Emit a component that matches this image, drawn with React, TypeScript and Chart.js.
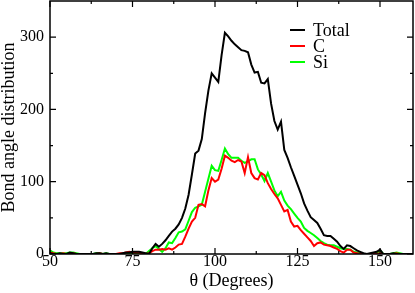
import React, { useEffect, useRef } from 'react';
import { Chart, registerables } from 'chart.js';

Chart.register(...registerables);

const ANGLES = [
  50, 51, 52, 53, 54, 55, 56, 57, 58, 59,
  60, 61, 62, 63, 64, 65, 66, 67, 68, 69,
  70, 71, 72, 73, 74, 75, 76, 77, 78, 79,
  80, 81, 82, 83, 84, 85, 86, 87, 88, 89,
  90, 91, 92, 93, 94, 95, 96, 97, 98, 99,
  100, 101, 102, 103, 104, 105, 106, 107, 108, 109,
  110, 111, 112, 113, 114, 115, 116, 117, 118, 119,
  120, 121, 122, 123, 124, 125, 126, 127, 128, 129,
  130, 131, 132, 133, 134, 135, 136, 137, 138, 139,
  140, 141, 142, 143, 144, 145, 146, 147, 148, 149,
  150, 151, 152, 153, 154, 155, 156, 157, 158, 159,
  160,
];

const TOTAL = [
  1, 0, 0, 1, 0, 0, 2, 1, 0, 0,
  0, 0, 0, 0, 1, 1, 0, 1, 0, 0,
  0, 0, 1, 2, 2, 3, 3, 3, 2, 1,
  0, 8, 14, 10, 14, 19, 25, 31, 35, 41,
  50, 63, 82, 110, 139, 143, 159, 195, 226, 250,
  244, 238, 275, 306, 301, 295, 290, 286, 282, 281,
  279, 262, 251, 252, 237, 236, 242, 208, 184, 172,
  183, 144, 133, 120, 108, 96, 84, 70, 60, 51,
  47, 43, 35, 26, 25, 25, 21, 17, 11, 7,
  12, 11, 8, 5, 3, 1, 0, 1, 2, 3,
  6, 0, 0, 0, 1, 0, 0, 0, 0, 0,
  0,
];

const CARBON = [
  2, 1, 0, 0, 1, 0, 0, 1, 0, 0,
  0, 0, 0, 0, 0, 1, 0, 0, 0, 0,
  0, 1, 1, 2, 3, 2, 2, 2, 1, 0,
  1, 4, 6, 6, 7, 6, 8, 6, 9, 13,
  14, 24, 35, 45, 50, 68, 69, 66, 88, 105,
  100, 103, 118, 136, 133, 129, 127, 130, 128, 112,
  134, 112, 105, 103, 112, 109, 98, 90, 83, 77,
  68, 59, 61, 45, 38, 39, 33, 28, 23, 18,
  11, 15, 16, 13, 12, 11, 9, 7, 4, 2,
  6, 6, 2, 1, 0, 0, 0, 0, 0, 0,
  1, 0, 0, 0, 0, 1, 0, 0, 0, 0,
  0,
];

const SILICON = [
  5, 2, 1, 1, 1, 1, 2, 2, 1, 0,
  0, 0, 0, 0, 1, 1, 0, 1, 0, 0,
  0, 0, 0, 0, 0, 1, 1, 0, 0, 0,
  4, 8, 11, 7, 3, 8, 16, 15, 22, 30,
  31, 34, 46, 58, 64, 66, 68, 86, 104, 122,
  116, 115, 130, 146, 138, 133, 133, 133, 129, 126,
  128, 131, 131, 117, 110, 101, 112, 100, 88, 80,
  86, 74, 67, 62, 56, 50, 45, 36, 32, 29,
  26, 22, 18, 15, 13, 12, 12, 10, 8, 7,
  7, 6, 3, 2, 1, 0, 0, 0, 0, 1,
  5, 0, 0, 0, 1, 2, 1, 0, 0, 0,
  0,
];

const SERIES_LABELS = ['Total', 'C', 'Si'];
const SERIES_COLORS = ['#000000', '#ff0000', '#00ff00'];
const SERIES_VALUES = [TOTAL, CARBON, SILICON];

const X_TICKS = [50, 75, 100, 125, 150];
const X_MINOR_TICKS = [62.5, 87.5, 112.5, 137.5];
const Y_TICKS = [0, 100, 200, 300];
const Y_MINOR_TICKS = [50, 150, 250];

const X_TITLE = 'θ (Degrees)';
const Y_TITLE = 'Bond angle distribution';

const FONT = '"Liberation Serif", "Times New Roman", serif';

const frameAndLegend = {
  id: 'frameAndLegend',
  afterDraw(chart: any) {
    const { ctx, chartArea: a, scales } = chart;
    const xs = scales.x;
    const ys = scales.y;
    ctx.save();
    ctx.strokeStyle = '#000';
    ctx.lineWidth = 1.5;
    ctx.strokeRect(a.left, a.top, a.right - a.left, a.bottom - a.top);
    ctx.lineWidth = 1.2;
    const major = 6;
    const minor = 3;
    const xMark = (v: number, len: number) => {
      const p = xs.getPixelForValue(v);
      ctx.beginPath();
      ctx.moveTo(p, a.bottom);
      ctx.lineTo(p, a.bottom - len);
      ctx.moveTo(p, a.top);
      ctx.lineTo(p, a.top + len);
      ctx.stroke();
    };
    const yMark = (v: number, len: number) => {
      const p = ys.getPixelForValue(v);
      ctx.beginPath();
      ctx.moveTo(a.left, p);
      ctx.lineTo(a.left + len, p);
      ctx.moveTo(a.right, p);
      ctx.lineTo(a.right - len, p);
      ctx.stroke();
    };
    X_TICKS.forEach((v) => xMark(v, major));
    X_MINOR_TICKS.forEach((v) => xMark(v, minor));
    Y_TICKS.forEach((v) => yMark(v, major));
    Y_MINOR_TICKS.forEach((v) => yMark(v, minor));

    // legend
    ctx.font = `18px ${FONT}`;
    ctx.textBaseline = 'middle';
    ctx.textAlign = 'left';
    chart.data.datasets.forEach((ds: any, i: number) => {
      const y = 30 + i * 16;
      ctx.strokeStyle = ds.borderColor;
      ctx.lineWidth = 2;
      ctx.beginPath();
      ctx.moveTo(290, y);
      ctx.lineTo(305, y);
      ctx.stroke();
      ctx.fillStyle = '#000';
      ctx.fillText(ds.label, 313, y + 1);
    });
    ctx.restore();
  },
};

export default function App() {
  const ref = useRef<HTMLCanvasElement | null>(null);

  useEffect(() => {
    if (!ref.current) return;
    const datasets = SERIES_LABELS.map((label, i) => ({
      label,
      data: ANGLES.map((x, j) => ({ x, y: SERIES_VALUES[i][j] })),
      borderColor: SERIES_COLORS[i],
      backgroundColor: SERIES_COLORS[i],
      borderWidth: 2,
      pointRadius: 0,
      tension: 0,
      fill: false,
    }));
    const chart = new Chart(ref.current, {
      type: 'line',
      data: { datasets },
      options: {
        animation: false,
        responsive: false,
        devicePixelRatio: 1,
        layout: { padding: { top: 1, right: 2, left: 0, bottom: 0 } },
        plugins: {
          legend: { display: false },
          tooltip: { enabled: false },
        },
        scales: {
          x: {
            type: 'linear',
            min: 50,
            max: 160,
            afterBuildTicks: (s: any) => {
              s.ticks = X_TICKS.map((v) => ({ value: v }));
            },
            afterFit: (s: any) => {
              s.height = 39;
              s.paddingLeft = 0;
              s.paddingRight = 0;
            },
            grid: { display: false, drawTicks: false },
            border: { display: false },
            ticks: {
              autoSkip: false,
              maxRotation: 0,
              padding: 0,
              color: '#000',
              font: { family: FONT, size: 16, lineHeight: 1 },
            },
            title: {
              display: true,
              text: X_TITLE,
              color: '#000',
              font: { family: FONT, size: 18, lineHeight: 1 },
              padding: { top: 0, bottom: 3 },
            },
          },
          y: {
            type: 'linear',
            min: 0,
            max: 350,
            afterBuildTicks: (s: any) => {
              s.ticks = Y_TICKS.map((v) => ({ value: v }));
            },
            afterFit: (s: any) => {
              s.width = 50;
              s.paddingTop = 0;
              s.paddingBottom = 0;
            },
            grid: { display: false, drawTicks: false },
            border: { display: false },
            ticks: {
              padding: 6,
              color: '#000',
              font: { family: FONT, size: 16, lineHeight: 1 },
            },
            title: {
              display: true,
              text: Y_TITLE,
              color: '#000',
              font: { family: FONT, size: 18, lineHeight: 1 },
              padding: { top: 0, bottom: 0 },
            },
          },
        },
      },
      plugins: [frameAndLegend],
    });
    return () => chart.destroy();
  }, []);

  return (
    <div style={{ position: 'fixed', left: 0, top: 0, width: 415, height: 293, background: '#fff' }}>
      <canvas ref={ref} width={415} height={293} />
    </div>
  );
}
